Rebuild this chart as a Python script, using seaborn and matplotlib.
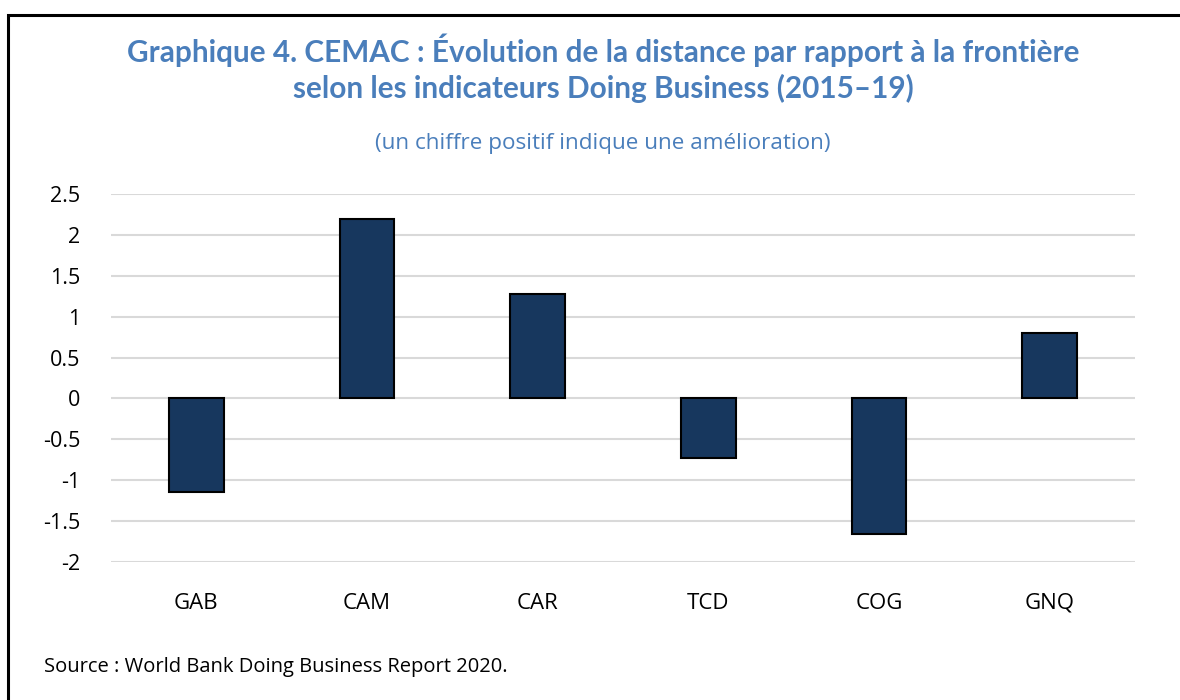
import matplotlib
matplotlib.use("Agg")
import matplotlib.pyplot as plt
import seaborn as sns
import pandas as pd
from matplotlib.patches import Rectangle

countries = ["GAB", "CAM", "CAR", "TCD", "COG", "GNQ"]
values = [-1.14, 2.19, 1.28, -0.73, -1.66, 0.80]
yticks = [-2, -1.5, -1, -0.5, 0, 0.5, 1, 1.5, 2, 2.5]
ytick_labels = ["-2", "-1.5", "-1", "-0.5", "0", "0.5", "1", "1.5", "2", "2.5"]

title1 = "Graphique 4. CEMAC : Évolution de la distance par rapport à la frontière"
title2 = "selon les indicateurs Doing Business (2015–19)"
subtitle = "(un chiffre positif indique une amélioration)"
source = "Source : World Bank Doing Business Report 2020."

sns.set_theme(style="white")
plt.rcParams['font.family'] = ['Open Sans', 'DejaVu Sans']

blue = "#4A7EBB"
bar_color = "#17375E"

df = pd.DataFrame({"country": countries, "value": values})

fig = plt.figure(figsize=(11.8, 7), dpi=100)
ax = fig.add_axes([111/1180, 1-562/700, (1135-111)/1180, (562-194)/700])

sns.barplot(data=df, x="country", y="value", color=bar_color, width=0.32,
            edgecolor="black", linewidth=1.5, saturation=1, ax=ax, zorder=3)

ax.set_ylim(-2, 2.5)
ax.set_xlim(-0.5, 5.5)
ax.set_yticks(yticks)
ax.set_yticklabels(ytick_labels)
ax.yaxis.grid(True, color="#D9D9D9", linewidth=1.5, zorder=0)
ax.set_axisbelow(True)
for s in ax.spines.values():
    s.set_visible(False)
ax.set_xlabel("")
ax.set_ylabel("")
ax.tick_params(axis="y", labelsize=15.5, pad=22, length=0, colors="black")
ax.tick_params(axis="x", labelsize=16, pad=22, length=0, colors="black")

fig.text(0.511, 1-62/700, title1, ha="center", va="baseline", fontsize=21.4,
         fontweight="bold", color=blue, family=["Lato", "DejaVu Sans"])
fig.text(0.511, 1-98/700, title2, ha="center", va="baseline", fontsize=21.4,
         fontweight="bold", color=blue, family=["Lato", "DejaVu Sans"])
fig.text(0.511, 1-149/700, subtitle, ha="center", va="baseline", fontsize=16.2,
         color=blue)
fig.text(44/1180, 1-672/700, source, ha="left", va="baseline", fontsize=14.5,
         color="black")

fig.add_artist(Rectangle((8/1180, -0.1), 1.2, 1.1 - 15/700,
                         transform=fig.transFigure, fill=False,
                         edgecolor="black", linewidth=2.2, clip_on=False))

fig.savefig("out.png", dpi=100)
